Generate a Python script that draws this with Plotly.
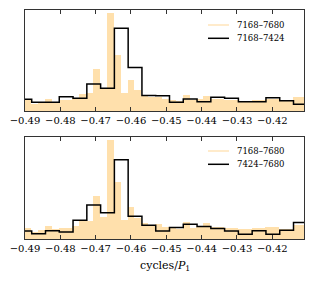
import plotly.graph_objects as go
from plotly.subplots import make_subplots

# ---- data ----
ORANGE_START = -0.49023
ORANGE_WIDTH = 0.00195
orange_counts = [11, 7, 8.5, 12.5, 9.5, 11, 11, 13, 17.5, 18, 42, 22, 98.3, 56, 18.3,
                 31, 21, 16, 14, 14.5, 12, 11, 10, 16.5, 11, 12, 15.5, 12, 12, 11,
                 11, 9.5, 10, 11, 11, 12, 12, 10, 10, 14, 14]

BLACK_START = -0.4920
BLACK_WIDTH = 0.0039
top_black = [11.7, 8.7, 8.7, 14.3, 12.7, 27, 22.7, 82.7, 43.5, 15.5, 15.3, 8.7, 12,
             9.3, 13.7, 12.7, 9.3, 9.3, 13.3, 10.3, 6.7]
bot_black = [8, 5.3, 8.3, 7, 18.7, 33.7, 26, 78.7, 22.7, 13.7, 8, 11.3, 14.7, 12.3,
             10.5, 8, 4.8, 8.2, 4.8, 8.7, 16.3]

orange_label = "7168–7680"
top_label = "7168–7424"
bot_label = "7424–7680"
tick_vals = [-0.49, -0.48, -0.47, -0.46, -0.45, -0.44, -0.43, -0.42]
x_range = [-0.49, -0.41103]
y_range = [0, 101]

ORANGE = "rgb(255,224,172)"
ORANGE_LEG = "rgb(255,228,186)"
FONT = "DejaVu Serif"

# layout geometry (pixels)
W, H = 315, 289
ML, MR, MT, MB = 25, 11, 10, 50
PW = W - ML - MR
PH = H - MT - MB

def px_x(px):
    return (px - ML) / PW

def px_y(py):
    return (H - MB - py) / PH

o_centers = [ORANGE_START + ORANGE_WIDTH * (i + 0.5) for i in range(len(orange_counts))]

def step_xy(vals):
    xs = [BLACK_START + BLACK_WIDTH * i for i in range(len(vals) + 1)]
    ys = list(vals) + [vals[-1]]
    return xs, ys

fig = make_subplots(rows=2, cols=1, vertical_spacing=0.1)

for row, blk, lab in [(1, top_black, top_label), (2, bot_black, bot_label)]:
    fig.add_trace(go.Bar(x=o_centers, y=orange_counts, width=ORANGE_WIDTH,
                         marker=dict(color=ORANGE, line=dict(width=0)),
                         name=orange_label, showlegend=False), row=row, col=1)
    xs, ys = step_xy(blk)
    fig.add_trace(go.Scatter(x=xs, y=ys, mode="lines", line_shape="hv", name=lab,
                             line=dict(color="black", width=1.5), showlegend=False),
                  row=row, col=1)

for r in (1, 2):
    fig.update_xaxes(range=x_range, tickvals=tick_vals, ticks="inside", ticklen=4,
                     tickcolor="#333", tickwidth=1, mirror="ticks", showgrid=False,
                     zeroline=False, showline=True, linecolor="#333", linewidth=1,
                     tickfont=dict(family=FONT, size=10, color="black"), row=r, col=1)
    fig.update_yaxes(range=y_range, showticklabels=False, ticks="", showgrid=False,
                     zeroline=False, showline=True, linecolor="#333", linewidth=1,
                     mirror=True, row=r, col=1)

# legends drawn as line samples + text
shapes = []
annotations = []
legend_rows = [
    (25.0, orange_label, ORANGE_LEG), (38.3, top_label, "black"),
    (151.0, orange_label, ORANGE_LEG), (164.3, bot_label, "black"),
]
for py, text, col in legend_rows:
    shapes.append(dict(type="line", xref="paper", yref="paper",
                       x0=px_x(208), x1=px_x(229), y0=px_y(py), y1=px_y(py),
                       line=dict(color=col, width=1.5)))
    annotations.append(dict(text=text, xref="paper", yref="paper", x=px_x(235),
                            y=px_y(py), xanchor="left", yanchor="middle", showarrow=False,
                            font=dict(family=FONT, size=8.5, color="black")))

annotations.append(dict(text="cycles/<i>P</i><sub>1</sub>", x=0.5, y=px_y(266),
                        xref="paper", yref="paper", showarrow=False, yanchor="middle",
                        font=dict(family=FONT, size=11, color="black")))

fig.update_layout(
    width=W, height=H,
    margin=dict(l=ML, r=MR, t=MT, b=MB),
    plot_bgcolor="white", paper_bgcolor="white",
    bargap=0, barmode="overlay", showlegend=False,
    font=dict(family=FONT, size=10, color="black"),
    shapes=shapes, annotations=annotations,
)
fig.update_layout(yaxis=dict(domain=[px_y(111), 1.0]), yaxis2=dict(domain=[0.0, px_y(137.3)]))

fig.write_html("out.html", config={"displayModeBar": False},
               post_script="document.body.style.margin='0';document.body.style.overflow='hidden';")
